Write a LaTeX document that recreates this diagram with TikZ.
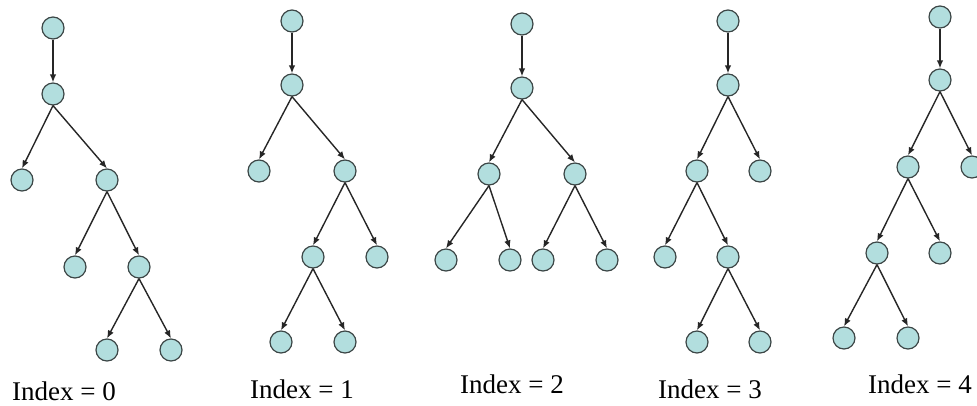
\documentclass[tikz,border=0pt]{standalone}
\usepackage{fontspec}
\setmainfont{Liberation Serif}
\usetikzlibrary{arrows.meta}
\definecolor{nodefill}{RGB}{178,222,222}
\definecolor{nodeline}{RGB}{60,70,70}

\begin{document}
\begin{tikzpicture}[x=1pt, y=-1pt,
  nd/.style={circle, draw=nodeline, fill=nodefill, line width=1.2pt,
             minimum size=22pt, inner sep=0pt},
  edge/.style={line width=1.4pt, draw=black!85, -{Latex[length=8pt,width=6.5pt]}},
  lbl/.style={anchor=base west, inner sep=0pt,
              font=\fontsize{27}{30}\selectfont}
]
  \useasboundingbox (0,0) rectangle (977,405);

  % Index = 0
  \node[nd] (t0a) at (53,28)   {};
  \node[nd] (t0b) at (53,94)   {};
  \node[nd] (t0c) at (22,180)  {};
  \node[nd] (t0d) at (107,180) {};
  \node[nd] (t0e) at (75,267)  {};
  \node[nd] (t0f) at (139,267) {};
  \node[nd] (t0g) at (107,350) {};
  \node[nd] (t0h) at (171,350) {};
  \foreach \u/\v in {a/b, b/c, b/d, d/e, d/f, f/g, f/h}
    \draw[edge] (t0\u.south) -- (t0\v.north);
  \node[lbl] (l0) at (12,400) {Index = 0};

  % Index = 1
  \node[nd] (t1a) at (292,21)  {};
  \node[nd] (t1b) at (292,85)  {};
  \node[nd] (t1c) at (259,171) {};
  \node[nd] (t1d) at (345,171) {};
  \node[nd] (t1e) at (313,257) {};
  \node[nd] (t1f) at (377,257) {};
  \node[nd] (t1g) at (281,342) {};
  \node[nd] (t1h) at (345,342) {};
  \foreach \u/\v in {a/b, b/c, b/d, d/e, d/f, e/g, e/h}
    \draw[edge] (t1\u.south) -- (t1\v.north);
  \node[lbl] (l1) at (250,398) {Index = 1};

  % Index = 2
  \node[nd] (t2a) at (522,24)  {};
  \node[nd] (t2b) at (522,88)  {};
  \node[nd] (t2c) at (489,174) {};
  \node[nd] (t2d) at (575,174) {};
  \node[nd] (t2e) at (446,260) {};
  \node[nd] (t2f) at (510,260) {};
  \node[nd] (t2g) at (543,260) {};
  \node[nd] (t2h) at (607,260) {};
  \foreach \u/\v in {a/b, b/c, b/d, c/e, c/f, d/g, d/h}
    \draw[edge] (t2\u.south) -- (t2\v.north);
  \node[lbl] (l2) at (460,393) {Index = 2};

  % Index = 3
  \node[nd] (t3a) at (728,21)  {};
  \node[nd] (t3b) at (728,85)  {};
  \node[nd] (t3c) at (697,171) {};
  \node[nd] (t3d) at (760,171) {};
  \node[nd] (t3e) at (665,257) {};
  \node[nd] (t3f) at (728,257) {};
  \node[nd] (t3g) at (697,342) {};
  \node[nd] (t3h) at (760,342) {};
  \foreach \u/\v in {a/b, b/c, b/d, c/e, c/f, f/g, f/h}
    \draw[edge] (t3\u.south) -- (t3\v.north);
  \node[lbl] (l3) at (658,398) {Index = 3};

  % Index = 4
  \node[nd] (t4a) at (940,17)  {};
  \node[nd] (t4b) at (940,80)  {};
  \node[nd] (t4c) at (908,167) {};
  \node[nd] (t4d) at (972,167) {};
  \node[nd] (t4e) at (877,253) {};
  \node[nd] (t4f) at (940,253) {};
  \node[nd] (t4g) at (844,338) {};
  \node[nd] (t4h) at (908,338) {};
  \foreach \u/\v in {a/b, b/c, b/d, c/e, c/f, e/g, e/h}
    \draw[edge] (t4\u.south) -- (t4\v.north);
  \node[lbl] (l4) at (868,393) {Index = 4};
\end{tikzpicture}
\end{document}
